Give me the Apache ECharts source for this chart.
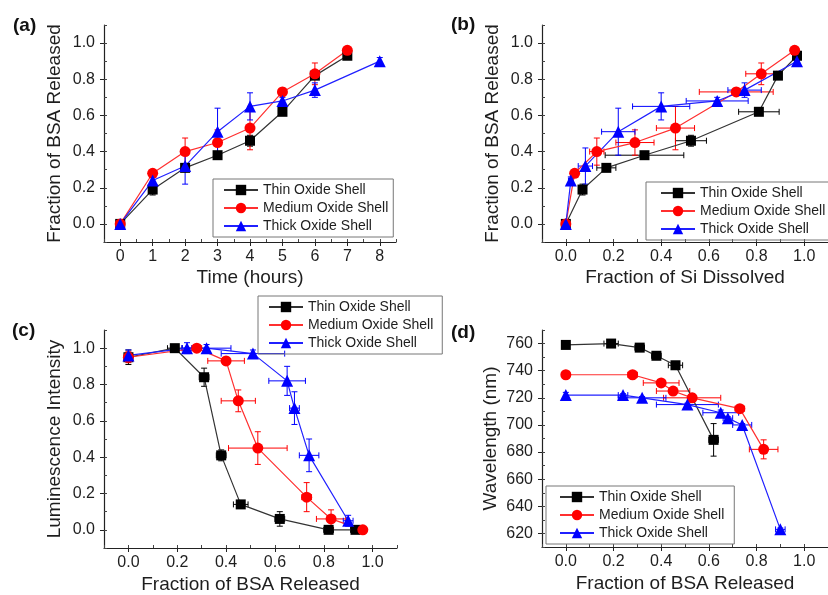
<!DOCTYPE html>
<html>
<head>
<meta charset="utf-8">
<script src="https://cdn.jsdelivr.net/npm/echarts@6/dist/echarts.min.js"></script>
<style>
  html, body { margin: 0; padding: 0; background: #fff; }
  #chart { width: 828px; height: 595px; }
</style>
</head>
<body>
<div id="chart"></div>
<script>
var seriesNames = ['Thin Oxide Shell', 'Medium Oxide Shell', 'Thick Oxide Shell'];

// (a) time points, hours
var hoursThin = [0, 1, 2, 3, 4, 5, 6, 7];
var hoursMed = [0, 1, 2, 3, 4, 5, 6, 7];
var hoursThick = [0, 1, 2, 3, 4, 5, 6, 8];

// fraction of BSA released (y in a, b; x in c, d)
var bsaThin = [0, 0.19, 0.31, 0.38, 0.46, 0.62, 0.82, 0.93];
var bsaThinErr = [0, 0.03, 0.02, 0.02, 0.03, 0.02, 0.02, 0.02];
var bsaMed = [0, 0.28, 0.40, 0.45, 0.53, 0.73, 0.83, 0.96];
var bsaMedErr = [0, 0.02, 0.075, 0.07, 0.12, 0.02, 0.06, 0.01];
var bsaThick = [0, 0.24, 0.32, 0.51, 0.65, 0.68, 0.74, 0.90];
var bsaThickErr = [0, 0.02, 0.10, 0.13, 0.075, 0.02, 0.04, 0.02];

// (b) fraction of Si dissolved
var siThin = [0, 0.07, 0.17, 0.33, 0.525, 0.81, 0.89, 0.97];
var siThinErr = [0, 0, 0.04, 0.165, 0.065, 0.085, 0.01, 0.01];
var siMed = [0, 0.037, 0.13, 0.29, 0.46, 0.715, 0.82, 0.96];
var siMedErr = [0, 0.01, 0.03, 0.08, 0.08, 0.155, 0.065, 0.01];
var siThick = [0, 0.021, 0.082, 0.22, 0.40, 0.635, 0.75, 0.97];
var siThickErr = [0, 0.01, 0.03, 0.07, 0.12, 0.13, 0.07, 0.01];

// (c) luminescence intensity
var lumThin = [0.95, 1.0, 0.84, 0.41, 0.14, 0.06, 0.0, 0.0];
var lumThinErr = [0.04, 0.01, 0.05, 0.03, 0.02, 0.04, 0.01, 0.01];
var lumMed = [0.95, 1.0, 0.93, 0.71, 0.45, 0.18, 0.06, 0.0];
var lumMedErr = [0.03, 0.01, 0.02, 0.06, 0.09, 0.08, 0.05, 0.01];
var lumThick = [0.96, 1.0, 1.0, 0.97, 0.82, 0.67, 0.41, 0.05];
var lumThickErr = [0.03, 0.03, 0.02, 0.02, 0.08, 0.09, 0.09, 0.03];

// (d) wavelength, nm
var wlThin = [759, 760, 757, 751, 744, 689];
var wlThinErr = [1, 1, 1, 1, 2, 12];
var wlMed = [737, 737, 731, 725, 720, 712, 682];
var wlMedErr = [1, 1, 2, 2, 3, 2, 7];
var wlThick = [722, 722, 720, 715, 709, 705, 700, 623];
var wlThickErr = [2, 1, 1, 1, 2, 1, 1, 1];

// tick labels
var hourTicks = [0, 1, 2, 3, 4, 5, 6, 7, 8];
var fracTicks = [0, 0.2, 0.4, 0.6, 0.8, 1.0];
var wlTicks = [620, 640, 660, 680, 700, 720, 740, 760];

var FONT = 'Liberation Sans, Arial, sans-serif';
var TXT = '#1e1e1e';
var colors = ['#000000', '#ff0000', '#0000ff'];
var lineColors = ['#333333', '#ff3030', '#2020ff'];
var symbols = ['rect', 'circle', 'triangle'];
var symbolSizes = [10, 11, 12];

var grids = [
  { left: 104, top: 25, width: 292, height: 217 },
  { left: 542, top: 25, width: 291, height: 217 },
  { left: 104, top: 330, width: 293, height: 218 },
  { left: 542, top: 330, width: 291, height: 217 }
];

var xAxes = [];
var yAxes = [];

function addAxis(list, grid, isX, name, nameGap, min, max, majors, minorStep, fmt) {
  list.push({
    type: 'value', gridIndex: grid, position: isX ? 'bottom' : 'left',
    min: min, max: max,
    name: name, nameLocation: 'middle', nameGap: nameGap,
    nameTextStyle: { fontFamily: FONT, fontSize: 19, color: TXT },
    axisLine: { show: true, onZero: false, lineStyle: { color: '#222', width: 1.2 } },
    axisTick: { show: true, inside: false, length: 4, customValues: majors, lineStyle: { color: '#222' } },
    axisLabel: { customValues: majors, margin: isX ? 7 : 9, fontFamily: FONT, fontSize: 16, color: TXT, formatter: fmt },
    splitLine: { show: false }
  });
  // minor ticks on a twin axis
  list.push({
    type: 'value', gridIndex: grid, position: isX ? 'bottom' : 'left',
    min: min, max: max, interval: minorStep,
    axisLine: { show: false, onZero: false },
    axisTick: { show: true, inside: true, length: 3, lineStyle: { color: '#444' } },
    axisLabel: { show: false },
    splitLine: { show: false }
  });
}

function f1(v) { return v.toFixed(1); }
function f0(v) { return String(v); }

addAxis(xAxes, 0, true, 'Time (hours)', 26, -0.5, 8.5, hourTicks, 0.5, f0);
addAxis(yAxes, 0, false, 'Fraction of BSA Released', 40, -0.1, 1.1, fracTicks, 0.1, f1);
addAxis(xAxes, 1, true, 'Fraction of Si Dissolved', 26, -0.1, 1.1, fracTicks, 0.1, f1);
addAxis(yAxes, 1, false, 'Fraction of BSA Released', 40, -0.1, 1.1, fracTicks, 0.1, f1);
addAxis(xAxes, 2, true, 'Fraction of BSA Released', 27, -0.1, 1.1, fracTicks, 0.1, f1);
addAxis(yAxes, 2, false, 'Luminescence Intensity', 40, -0.1, 1.1, fracTicks, 0.1, f1);
addAxis(xAxes, 3, true, 'Fraction of BSA Released', 27, -0.1, 1.1, fracTicks, 0.1, f1);
addAxis(yAxes, 3, false, 'Wavelength (nm)', 42, 610, 770, wlTicks, 10, f0);

var series = [];

function pairs(xs, ys) {
  return ys.map(function (y, i) { return [xs[i], y]; });
}

function addLine(panel, k, xs, ys) {
  series.push({
    type: 'line', name: seriesNames[k],
    xAxisIndex: panel * 2, yAxisIndex: panel * 2,
    data: pairs(xs, ys),
    symbol: symbols[k], symbolSize: symbolSizes[k],
    itemStyle: { color: colors[k] },
    lineStyle: { color: lineColors[k], width: 1.2 },
    z: 3
  });
}

function addErr(panel, k, xs, ys, xe, ye) {
  var data = ys.map(function (y, i) {
    return [xs[i], y, xe ? xe[i] : 0, ye ? ye[i] : 0];
  });
  var col = colors[k];
  series.push({
    type: 'custom', name: seriesNames[k] + ' error',
    xAxisIndex: panel * 2, yAxisIndex: panel * 2,
    data: data, silent: true, z: 2,
    renderItem: function (params, api) {
      var x = api.value(0), y = api.value(1), dx = api.value(2), dy = api.value(3);
      var st = { stroke: col, lineWidth: 1 };
      var c = 3;
      var kids = [];
      if (dy > 0) {
        var a = api.coord([x, y + dy]), b = api.coord([x, y - dy]);
        kids.push({ type: 'line', shape: { x1: a[0], y1: a[1], x2: b[0], y2: b[1] }, style: st });
        kids.push({ type: 'line', shape: { x1: a[0] - c, y1: a[1], x2: a[0] + c, y2: a[1] }, style: st });
        kids.push({ type: 'line', shape: { x1: b[0] - c, y1: b[1], x2: b[0] + c, y2: b[1] }, style: st });
      }
      if (dx > 0) {
        var l = api.coord([x - dx, y]), r = api.coord([x + dx, y]);
        kids.push({ type: 'line', shape: { x1: l[0], y1: l[1], x2: r[0], y2: r[1] }, style: st });
        kids.push({ type: 'line', shape: { x1: l[0], y1: l[1] - c, x2: l[0], y2: l[1] + c }, style: st });
        kids.push({ type: 'line', shape: { x1: r[0], y1: r[1] - c, x2: r[0], y2: r[1] + c }, style: st });
      }
      return { type: 'group', children: kids };
    }
  });
}

// (a)
addErr(0, 0, hoursThin, bsaThin, null, bsaThinErr);
addErr(0, 1, hoursMed, bsaMed, null, bsaMedErr);
addErr(0, 2, hoursThick, bsaThick, null, bsaThickErr);
addLine(0, 0, hoursThin, bsaThin);
addLine(0, 1, hoursMed, bsaMed);
addLine(0, 2, hoursThick, bsaThick);
// (b)
addErr(1, 0, siThin, bsaThin, siThinErr, bsaThinErr);
addErr(1, 1, siMed, bsaMed, siMedErr, bsaMedErr);
addErr(1, 2, siThick, bsaThick, siThickErr, bsaThickErr);
addLine(1, 0, siThin, bsaThin);
addLine(1, 1, siMed, bsaMed);
addLine(1, 2, siThick, bsaThick);
// (c)
addErr(2, 0, bsaThin, lumThin, bsaThinErr, lumThinErr);
addErr(2, 1, bsaMed, lumMed, bsaMedErr, lumMedErr);
addErr(2, 2, bsaThick, lumThick, bsaThickErr, lumThickErr);
addLine(2, 0, bsaThin, lumThin);
addLine(2, 1, bsaMed, lumMed);
addLine(2, 2, bsaThick, lumThick);
// (d)
addErr(3, 0, bsaThin, wlThin, bsaThinErr, wlThinErr);
addErr(3, 1, bsaMed, wlMed, bsaMedErr, wlMedErr);
addErr(3, 2, bsaThick, wlThick, bsaThickErr, wlThickErr);
addLine(3, 0, bsaThin, wlThin);
addLine(3, 1, bsaMed, wlMed);
addLine(3, 2, bsaThick, wlThick);

function legendAt(left, top, pad) {
  return {
    data: seriesNames, orient: 'vertical', left: left, top: top,
    padding: pad, itemWidth: 34, itemHeight: 13, itemGap: 4,
    borderColor: '#777', borderWidth: 1, borderRadius: 0,
    selectedMode: false,
    textStyle: { fontFamily: FONT, fontSize: 14, color: TXT, lineHeight: 14 }
  };
}

function panelLabel(text, left, top) {
  return {
    text: text, left: left, top: top, padding: 0,
    textStyle: { fontFamily: FONT, fontSize: 19, fontWeight: 'bold', color: '#111' }
  };
}

var chart = echarts.init(document.getElementById('chart'));
chart.setOption({
  animation: false,
  backgroundColor: '#fff',
  title: [
    panelLabel('(a)', 13, 16),
    panelLabel('(b)', 451, 15),
    panelLabel('(c)', 12, 321),
    panelLabel('(d)', 451, 323)
  ],
  legend: [
    legendAt(213, 179, [4, 5, 4, 10]),
    legendAt(646, 182, [4, 10, 4, 14]),
    legendAt(258, 296, [4, 9, 4, 10]),
    legendAt(546, 486, [4, 10, 4, 13])
  ],
  grid: grids,
  xAxis: xAxes,
  yAxis: yAxes,
  series: series
});
</script>
</body>
</html>
